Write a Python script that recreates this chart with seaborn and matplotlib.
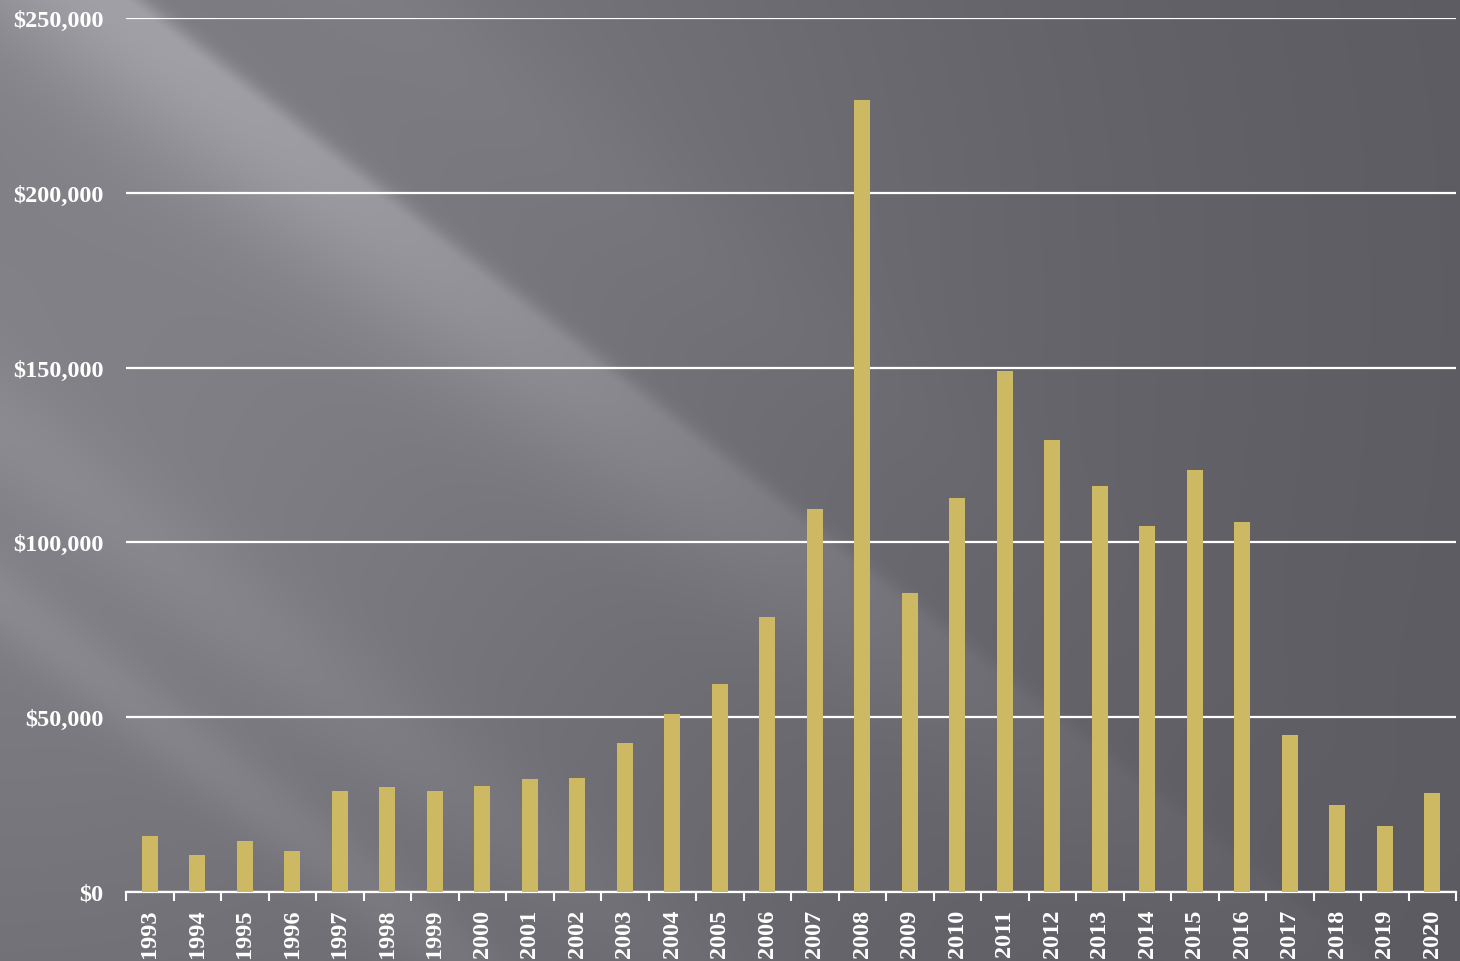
import matplotlib
matplotlib.use("Agg")
import matplotlib.pyplot as plt
import numpy as np
import pandas as pd
import seaborn as sns

# Dati
anni = [str(a) for a in range(1993, 2021)]
valori = [
    16000, 10600, 14500, 11700, 28900, 29900, 28900, 30300, 32300, 32600,
    42600, 50900, 59500, 78700, 109600, 226600, 85500, 112700, 149000, 129300,
    116100, 104700, 120700, 105800, 44900, 24900, 18900, 28300,
]
y_ticks = [0, 50000, 100000, 150000, 200000, 250000]

df = pd.DataFrame({"Anno": anni, "Valore": valori})

sns.set_theme(style="white")
plt.rcParams["font.family"] = ["Liberation Serif", "DejaVu Serif"]
plt.rcParams["font.weight"] = "bold"

W, H = 1460, 962
fig = plt.figure(figsize=(W / 100, H / 100), dpi=100)

# Sfondo: gradiente scuro con raggi di luce diagonali
xx, yy = np.meshgrid(np.arange(W), np.arange(H))
dist = np.hypot(xx, yy - 300)
base = 92 + 40 * np.exp(-(dist / 950) ** 2)
q = yy - 0.78 * xx
fade = np.exp(-(xx / 850) ** 2)
principale = np.where(q < -95,
                      np.exp(-((q + 95) / 18) ** 2),
                      np.exp(-((q + 95) / 130) ** 2))
raggi = (
    36 * principale
    + 10 * np.exp(-((q - 430) / 70) ** 2)
    + 12 * np.exp(-((q - 600) / 45) ** 2)
    + 6 * np.exp(-((q + 300) / 80) ** 2)
)
lum = base + raggi * fade
img = np.stack([lum - 1, lum - 3, lum + 4], axis=-1)
img = np.clip(img, 0, 255) / 255
bg = fig.add_axes([0, 0, 1, 1], zorder=0)
bg.imshow(img, aspect="auto", interpolation="bilinear")
bg.axis("off")

ax = fig.add_axes([126 / W, 1 - 893 / H, 1330 / W, (893 - 19) / H], zorder=1)
ax.set_facecolor("none")

sns.barplot(data=df, x="Anno", y="Valore", color="#CDB963", width=0.34,
            saturation=1, edgecolor="none", linewidth=0, ax=ax, zorder=3)

ax.set_ylim(0, 250000)
ax.set_xlim(-0.5, len(anni) - 0.5)
ax.set_yticks(y_ticks)
ax.set_yticklabels([f"${v:,.0f}" for v in y_ticks], color="white",
                   fontsize=17.5, fontweight="bold")
ax.yaxis.grid(True, color="white", linewidth=1.6)
ax.set_axisbelow(True)
ax.tick_params(axis="y", length=0, pad=16)

ax.set_xticks(range(len(anni)))
ax.set_xticklabels(anni, rotation=90, color="white", fontsize=17.5,
                   fontweight="bold")
ax.tick_params(axis="x", which="major", length=0, pad=12)
ax.set_xticks(np.arange(-0.5, len(anni), 1), minor=True)
ax.tick_params(axis="x", which="minor", length=6.5, width=1.5, color="white",
               direction="out", bottom=True)

for s in ["left", "right", "top"]:
    ax.spines[s].set_visible(False)
ax.spines["bottom"].set_color("white")
ax.spines["bottom"].set_linewidth(1.6)
ax.set_xlabel("")
ax.set_ylabel("")

fig.savefig("out.png", dpi=100)
